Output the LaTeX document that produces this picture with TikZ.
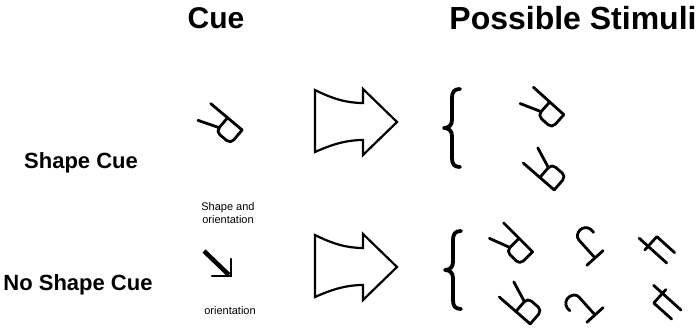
\documentclass[tikz,border=0pt]{standalone}
\usepackage{fontspec}
\setmainfont{Liberation Sans}
\begin{document}
\begin{tikzpicture}[x=1pt,y=1pt,
  glyph/.style={line width=2.8pt,line cap=round,line join=round},
  head/.style={font=\bfseries\fontsize{30}{30}\selectfont,inner sep=0pt},
  rowlab/.style={font=\bfseries\fontsize{22}{22}\selectfont,inner sep=0pt},
  small/.style={font=\fontsize{11}{13}\selectfont,inner sep=0pt,align=center},
  bigarrow/.pic={
    \draw[line width=2.2pt,line join=miter] (0,32) .. controls (18,23) and (32,19) .. (48,19)
      -- (48,33) -- (82,0) -- (48,-33) -- (48,-18)
      .. controls (32,-18) and (18,-22) .. (0,-30) -- cycle;
  },
  bracepic/.pic={
    \draw[line width=3.8pt,line cap=round,line join=round]
      (8,39) .. controls (2,39) and (0,36) .. (0,30) -- (0,8)
      .. controls (0,3) and (-3,0) .. (-8,0)
      .. controls (-3,0) and (0,-3) .. (0,-8) -- (0,-30)
      .. controls (0,-36) and (2,-39) .. (8,-39);
  },
  shapeA/.pic={
    \draw[glyph] (-21,9) -- (20,9);
    \draw[glyph,rounded corners=5pt] (1,9) -- (1,-9) -- (20,-9) -- (20,9);
    \draw[glyph] (1,-4) -- (-20,-12);
  },
  shapeB/.pic={
    \draw[glyph] (-11,-12) -- (11,-12);
    \draw[glyph] (0,-12) -- (0,12) .. controls (0,20) and (14,22) .. (16,12) -- (16,8);
  },
  shapeC/.pic={
    \draw[glyph] (-19,-4) -- (18,-4);
    \draw[glyph] (-7,-9) -- (-7,9) -- (17,9);
  }
]
\useasboundingbox (0,0) rectangle (699,329);

% headers
\node[head] (hcue) at (216,311) {Cue};
\node[head,font=\bfseries\fontsize{32}{32}\selectfont] (hstim) at (573,311) {Possible Stimuli};

% row labels
\node[rowlab] (lshape) at (81,166) {Shape Cue};
\node[rowlab] (lnoshape) at (78,44) {No Shape Cue};

% cue row 1
\path (221,205) pic[rotate=-40] {shapeA};
\node[small] (cuetxt1) at (228,116) {Shape and\\orientation};

% cue row 2 : orientation arrow
\coordinate (tail) at (204,78);
\coordinate (tip) at (229,54);
\draw[line width=4.5pt] (tail) -- (tip);
\draw[line width=2.6pt,line cap=round] (212,53) -- (231,53) -- (231,70);
\node[small] (cuetxt2) at (230,18) {orientation};

% big arrows
\path (315,207) pic {bigarrow};
\path (315,62) pic {bigarrow};

% braces
\path (452,201) pic {bracepic};
\path (453,59) pic {bracepic};

% row 1 stimuli
\path (543,221) pic[rotate=-42] {shapeA};
\path (545,159) pic[rotate=-41,yscale=-1] {shapeA};

% row 2 stimuli
\path (512,85) pic[rotate=-45] {shapeA};
\path (521,25) pic[rotate=-41,yscale=-1] {shapeA};
\path (587,80) pic[rotate=42] {shapeB};
\path (587,23) pic[rotate=42,xscale=-1] {shapeB};
\path (656,81) pic[rotate=-42] {shapeC};
\path (665,28) pic[rotate=-42,yscale=-1] {shapeC};
\end{tikzpicture}
\end{document}
